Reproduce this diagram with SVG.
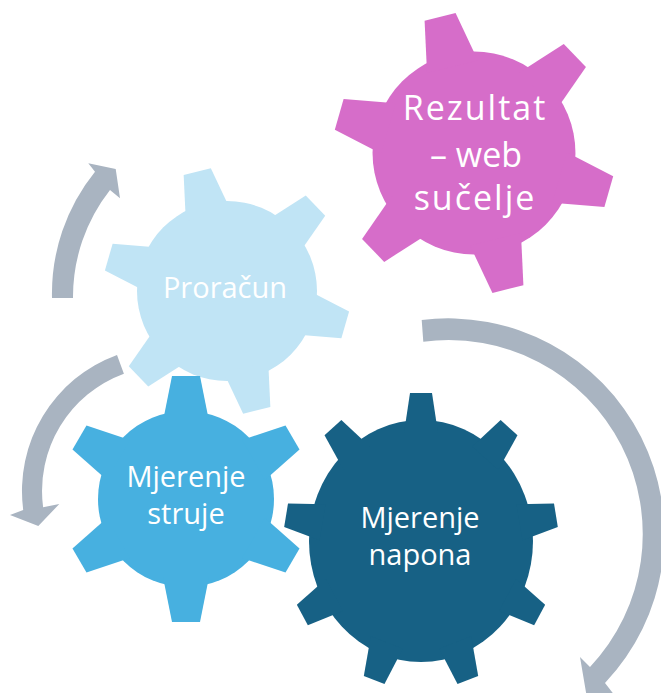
<svg xmlns="http://www.w3.org/2000/svg" xmlns:xlink="http://www.w3.org/1999/xlink" width="661" height="693" viewBox="0 0 661 693">
<style>
  .lbl{font-family:"Open Sans","Noto Sans",sans-serif;fill:#FFFFFF;text-anchor:middle;}
  .arrow{fill:#A9B4C1;stroke:none;}
</style>
<defs>
  <polygon id="toothA" points="-23,-78 -14,-123 14,-123 23,-78"/>
  <polygon id="toothB" points="-17,-100 -11,-137 11,-137 17,-100"/>
</defs>
<rect width="661" height="693" fill="#FFFFFF"/>

<g id="connectors">
  <path class="arrow" d="M 52 298 A 194 194 0 0 1 95 171.7 L 88.3 163.3 L 115.7 169 L 120 198.3 L 110 190 A 173 173 0 0 0 73 298 Z"/>
  <path class="arrow" d="M 117 354.9 A 145 145 0 0 0 23.2 509.9 L 10 515 L 38.3 526 L 59.3 504 L 43.1 507.3 A 125 125 0 0 1 123.9 373.7 Z"/>
  <path class="arrow" d="M 421.7 320 A 216 216 0 0 1 605 683 L 626 710 L 589 710 L 580 657 L 590 667 A 194 194 0 0 0 423.3 341.7 Z"/>
</g>

<g id="node-rezultat">
  <g fill="#D66DC9" transform="translate(474,153) scale(1.14)">
    <circle r="89"/>
    <use xlink:href="#toothA" transform="rotate(-14)"/>
    <use xlink:href="#toothA" transform="rotate(46)"/>
    <use xlink:href="#toothA" transform="rotate(106)"/>
    <use xlink:href="#toothA" transform="rotate(166)"/>
    <use xlink:href="#toothA" transform="rotate(226)"/>
    <use xlink:href="#toothA" transform="rotate(286)"/>
  </g>
  <text class="lbl" font-size="34" letter-spacing="2" x="475" y="120">Rezultat</text>
  <text class="lbl" font-size="34" x="476" y="167">– web</text>
  <text class="lbl" font-size="34" letter-spacing="2" x="475" y="210">sučelje</text>
</g>

<g id="node-proracun">
  <g fill="#C0E4F5" transform="translate(227,291)">
    <circle r="90"/>
    <use xlink:href="#toothA" transform="rotate(-14)"/>
    <use xlink:href="#toothA" transform="rotate(46)"/>
    <use xlink:href="#toothA" transform="rotate(106)"/>
    <use xlink:href="#toothA" transform="rotate(166)"/>
    <use xlink:href="#toothA" transform="rotate(226)"/>
    <use xlink:href="#toothA" transform="rotate(286)"/>
  </g>
  <text class="lbl" font-size="29" x="225" y="298">Proračun</text>
</g>

<g id="node-struja">
  <g fill="#47B0E0" transform="translate(186,499)">
    <circle r="88"/>
    <use xlink:href="#toothA" transform="rotate(0)"/>
    <use xlink:href="#toothA" transform="rotate(60)"/>
    <use xlink:href="#toothA" transform="rotate(120)"/>
    <use xlink:href="#toothA" transform="rotate(180)"/>
    <use xlink:href="#toothA" transform="rotate(240)"/>
    <use xlink:href="#toothA" transform="rotate(300)"/>
  </g>
  <text class="lbl" font-size="29" x="186" y="487">Mjerenje</text>
  <text class="lbl" font-size="29" x="186" y="524">struje</text>
</g>

<g id="node-napon">
  <g fill="#176185" transform="translate(421,541) scale(1,1.08)">
    <circle r="112"/>
    <use xlink:href="#toothB" transform="rotate(0)"/>
    <use xlink:href="#toothB" transform="rotate(40)"/>
    <use xlink:href="#toothB" transform="rotate(80)"/>
    <use xlink:href="#toothB" transform="rotate(120)"/>
    <use xlink:href="#toothB" transform="rotate(160)"/>
    <use xlink:href="#toothB" transform="rotate(200)"/>
    <use xlink:href="#toothB" transform="rotate(240)"/>
    <use xlink:href="#toothB" transform="rotate(280)"/>
    <use xlink:href="#toothB" transform="rotate(320)"/>
  </g>
  <text class="lbl" font-size="29" x="420" y="528">Mjerenje</text>
  <text class="lbl" font-size="29" x="420" y="565">napona</text>
</g>
</svg>
